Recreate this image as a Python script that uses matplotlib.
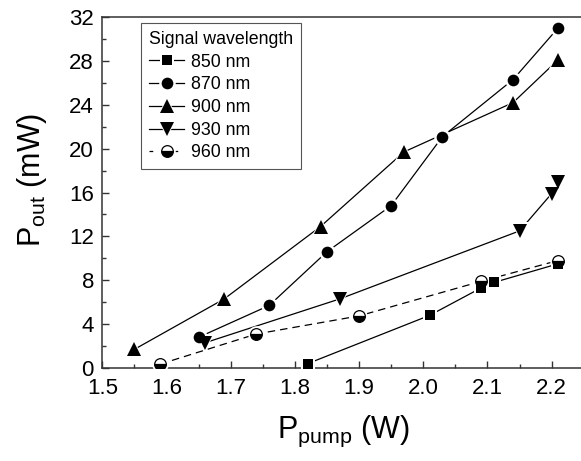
import numpy as np
import matplotlib
matplotlib.use("Agg")
import matplotlib.pyplot as plt
from matplotlib.lines import Line2D
from matplotlib.legend_handler import HandlerTuple
from matplotlib.ticker import MultipleLocator

plt.rcParams['font.family'] = ['Liberation Sans', 'DejaVu Sans']
plt.rcParams['mathtext.default'] = 'regular'

# output power vs pump power for each signal wavelength
x850 = [1.82, 2.01, 2.09, 2.11, 2.21]
y850 = [0.4, 4.8, 7.3, 7.8, 9.5]

x870 = [1.65, 1.76, 1.85, 1.95, 2.03, 2.14, 2.21]
y870 = [2.8, 5.7, 10.6, 14.8, 21.1, 26.3, 31.0]

x900 = [1.55, 1.69, 1.84, 1.97, 2.14, 2.21]
y900 = [1.7, 6.3, 12.9, 19.7, 24.2, 28.1]

x930 = [1.66, 1.87, 2.15, 2.20, 2.21]
y930 = [2.3, 6.3, 12.5, 15.9, 17.0]

x960 = [1.59, 1.74, 1.90, 2.09, 2.21]
y960 = [0.35, 3.1, 4.75, 7.9, 9.8]

labels = ['850 nm', '870 nm', '900 nm', '930 nm', '960 nm']

series = [
    (x850, y850, 's', 7.2, '-'),
    (x870, y870, 'o', 8.4, '-'),
    (x900, y900, '^', 9.5, '-'),
    (x930, y930, 'v', 9.5, '-'),
    (x960, y960, 'o', 8.4, (0, (6, 4))),
]

fig = plt.figure(figsize=(5.81, 4.61), dpi=100)
ax = fig.add_axes([0.176, 0.2017, 0.8287, 0.7614])

lw = 0.9
halo = 3.5

def marker_kw(m, ms, half):
    if half:
        return dict(marker=m, ms=ms, fillstyle='bottom', markerfacecolor='k',
                    markerfacecoloralt='white', markeredgecolor='k', markeredgewidth=0.9)
    return dict(marker=m, ms=ms, color='k', markeredgewidth=0)

# lines first, then a white halo under each marker so the line stops short of it
for x, y, m, ms, ls in series:
    ax.plot(x, y, color='k', lw=lw, ls=ls, zorder=2)
for x, y, m, ms, ls in series:
    ax.plot(x, y, ls='none', marker=m, ms=ms + halo, color='white',
            markeredgewidth=0, zorder=3)
handles = []
for i, (x, y, m, ms, ls) in enumerate(series):
    half = i == 4
    ax.plot(x, y, ls='none', zorder=4, **marker_kw(m, ms, half))
    h = (Line2D([], [], color='k', lw=lw, ls=ls if half is False else (0, (3, 7))),
         Line2D([], [], ls='none', marker=m, ms=ms + halo, color='white', markeredgewidth=0),
         Line2D([], [], ls='none', **marker_kw(m, ms, half)))
    handles.append(h)

ax.set_xlim(1.5, 2.25)
ax.set_ylim(0, 32)
ax.xaxis.set_major_locator(MultipleLocator(0.1))
ax.xaxis.set_minor_locator(MultipleLocator(0.05))
ax.yaxis.set_major_locator(MultipleLocator(4))
ax.yaxis.set_minor_locator(MultipleLocator(2))
ax.tick_params(which='both', direction='in', labelsize=16, width=1, color='#333333')
ax.tick_params(which='major', length=5)
ax.tick_params(which='minor', length=3)
ax.tick_params(axis='y', pad=6)
ax.tick_params(axis='x', pad=7)
for s in ax.spines.values():
    s.set_color('#333333')
    s.set_linewidth(1.1)

ax.set_xlabel('P$_{pump}$ (W)', fontsize=22)
ax.xaxis.set_label_coords(0.5, -0.13)
ax.set_ylabel('P$_{out}$ (mW)', fontsize=22)
ax.yaxis.set_label_coords(-0.11, 0.536)

leg = ax.legend(handles, labels, title='Signal wavelength', loc='upper left',
                bbox_to_anchor=(0.080, 0.983), borderaxespad=0,
                handler_map={tuple: HandlerTuple(ndivide=1, pad=0)},
                fontsize=12.8, title_fontsize=12.8, alignment='left',
                numpoints=1, handlelength=2.0, handletextpad=0.4,
                labelspacing=0.32, borderpad=0.45, fancybox=False, framealpha=1)
leg.get_frame().set_edgecolor('#555555')
leg.get_frame().set_linewidth(0.8)

fig.savefig('out.png', dpi=100)
